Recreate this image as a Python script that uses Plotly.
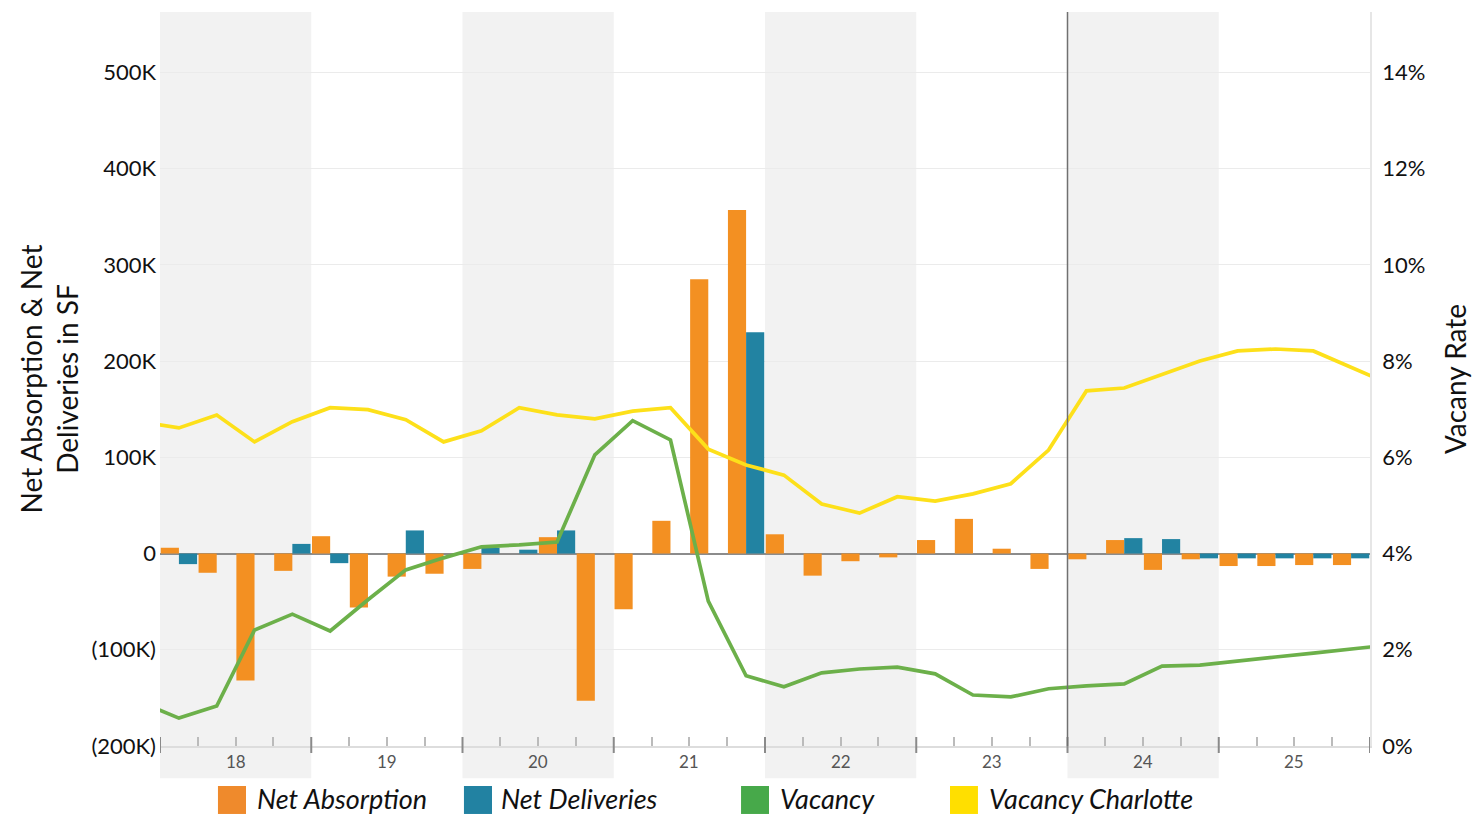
import plotly.graph_objects as go

# ---------------- data ----------------
years = ["18", "19", "20", "21", "22", "23", "24", "25"]
quarters = [f"20{y} Q{q}" for y in years for q in (1, 2, 3, 4)]          # 2018 Q1 .. 2025 Q4
line_quarters = ["2017 Q4"] + quarters + ["2026 Q1"]                      # lines run past the frame

# SF, per quarter
net_absorption = [6000, -20000, -132000, -18000, 18000, -56000, -24000, -21000,
                  -16000, 0, 17000, -153000, -58000, 34000, 285000, 357000,
                  20000, -23000, -8000, -4000, 14000, 36000, 5000, -16000,
                  -6000, 14000, -17000, -6000, -13000, -13000, -12000, -12000]
net_deliveries = [-11000, 0, 0, 10000, -10000, 0, 24000, 0,
                  6000, 4000, 24000, 0, 0, 0, 0, 230000,
                  0, 0, 0, 0, 0, 0, 0, 0,
                  0, 16000, 15000, -5000, -5000, -5000, -5000, -5000]
# percent
vacancy = [0.91, 0.58, 0.83, 2.41, 2.74, 2.39, 3.04, 3.66, 3.91, 4.14, 4.18, 4.24,
           6.05, 6.76, 6.36, 3.01, 1.46, 1.23, 1.52, 1.60, 1.64, 1.50, 1.06, 1.02,
           1.19, 1.25, 1.29, 1.66, 1.68, 1.77, 1.85, 1.93, 2.02, 2.10]
vacancy_charlotte = [6.74, 6.61, 6.88, 6.32, 6.74, 7.03, 6.99, 6.78, 6.32, 6.55, 7.03, 6.88,
                     6.80, 6.96, 7.03, 6.17, 5.84, 5.63, 5.03, 4.84, 5.18, 5.09, 5.24, 5.45,
                     6.15, 7.38, 7.44, 7.71, 8.00, 8.21, 8.25, 8.21, 7.88, 7.53]

left_tickvals = [-200000, -100000, 0, 100000, 200000, 300000, 400000, 500000]
left_ticktext = ["(200K)", "(100K)", "0", "100K", "200K", "300K", "400K", "500K"]
right_tickvals = [0, 2, 4, 6, 8, 10, 12, 14]
right_ticktext = ["0%", "2%", "4%", "6%", "8%", "10%", "12%", "14%"]

series_names = ["Net Absorption", "Net Deliveries", "Vacancy", "Vacancy Charlotte"]
series_colors = ["#F39022", "#2283A2", "#6CB04A", "#FDE01A"]
legend_colors = ["#EF8A2C", "#2282A2", "#47A94A", "#FFDF00"]

forecast_start = "2024 Q1"

# ---------------- positions ----------------
xb = [quarters.index(q) for q in quarters]
xl = [i - 1 for i in range(len(line_quarters))]
FONT = "Lato"

fig = go.Figure()
fig.add_trace(go.Bar(x=xb, y=net_absorption, name=series_names[0],
                     marker=dict(color=series_colors[0], line=dict(width=0)),
                     showlegend=False))
fig.add_trace(go.Bar(x=xb, y=net_deliveries, name=series_names[1],
                     marker=dict(color=series_colors[1], line=dict(width=0)),
                     showlegend=False))
fig.add_trace(go.Scatter(x=xl, y=vacancy, name=series_names[2], mode="lines",
                         line=dict(color=series_colors[2], width=3.7),
                         yaxis="y2", showlegend=False))
fig.add_trace(go.Scatter(x=xl, y=vacancy_charlotte, name=series_names[3], mode="lines",
                         line=dict(color=series_colors[3], width=3.7),
                         yaxis="y2", showlegend=False))

shapes = []
# alternating year bands
for i, y in enumerate(years):
    if i % 2 == 0:
        shapes.append(dict(type="rect", xref="x", yref="paper",
                           x0=4 * i - 0.5, x1=4 * i + 3.5, y0=-0.044, y1=1,
                           fillcolor="#F2F2F2", line=dict(width=0), layer="below"))
# year-boundary (major) ticks crossing the axis line
for i in range(len(years) + 1):
    shapes.append(dict(type="line", xref="x", yref="paper",
                       x0=4 * i - 0.5, x1=4 * i - 0.5, y0=-0.0095, y1=0.0123,
                       line=dict(color="#8A8A8A", width=2), layer="above"))
# forecast divider
fx = quarters.index(forecast_start) - 0.5
shapes.append(dict(type="line", xref="x", yref="paper", x0=fx, x1=fx, y0=0, y1=1,
                   line=dict(color="#707070", width=1.5), layer="above"))

annotations = []
for i, y in enumerate(years):
    annotations.append(dict(x=4 * i + 1.5, y=0, xref="x", yref="paper",
                            text=y, showarrow=False, yanchor="top", yshift=-3,
                            font=dict(family=FONT, size=17, color="#555555")))

# manual legend (large squares)
legend_sq = [(0.0479, 0.0711, 0.0785), (0.2512, 0.2744, 0.2802),
             (0.4802, 0.5033, 0.5107), (0.6529, 0.6760, 0.6835)]
for (x0, x1, xt), name, col in zip(legend_sq, series_names, legend_colors):
    shapes.append(dict(type="rect", xref="paper", yref="paper", x0=x0, x1=x1,
                       y0=-0.0926, y1=-0.0545, fillcolor=col, line=dict(width=0)))
    annotations.append(dict(x=xt, y=-0.0715, xref="paper", yref="paper",
                            text=f"<i>{name}</i>", showarrow=False,
                            xanchor="left", yanchor="middle",
                            font=dict(family=FONT, size=27, color="#111111")))

minor_vals = [q - 0.5 for q in range(len(quarters) + 1) if (q % 4) != 0]

fig.update_layout(
    width=1473, height=816,
    margin=dict(l=160, r=103, t=12, b=70, autoexpand=False),
    paper_bgcolor="white", plot_bgcolor="white",
    barmode="group", bargap=0.04, bargroupgap=0,
    font=dict(family=FONT, color="#111111"),
    shapes=shapes, annotations=annotations,
    xaxis=dict(range=[-0.5, 31.5], showgrid=False, zeroline=False,
               showline=True, linecolor="#DDDDDD", linewidth=1.5,
               tickmode="array", tickvals=minor_vals,
               ticktext=[""] * len(minor_vals), automargin=False,
               ticks="inside", ticklen=9, tickwidth=1.5, tickcolor="#BBBBBB"),
    yaxis=dict(range=[-200000, 562700], tickmode="array",
               tickvals=left_tickvals, ticktext=left_ticktext,
               tickfont=dict(family=FONT, size=22, color="#111111"),
               ticklabelstandoff=3, automargin=False,
               showgrid=True, gridcolor="#EBEBEB", gridwidth=1,
               zeroline=True, zerolinecolor="#8C8C8C", zerolinewidth=2,
               showline=False, ticks="",
               title=dict(text="Net Absorption & Net<br>Deliveries in SF",
                          font=dict(family=FONT, size=28, color="#111111"),
                          standoff=4)),
    yaxis2=dict(range=[0, 15.254], overlaying="y", side="right",
                tickmode="array", tickvals=right_tickvals, ticktext=right_ticktext,
                tickfont=dict(family=FONT, size=22, color="#111111"),
                ticklabelstandoff=6, automargin=False,
                showgrid=False, zeroline=False,
                showline=True, linecolor="#E6E6E6", linewidth=1.5, ticks="",
                title=dict(text="Vacany Rate",
                           font=dict(family=FONT, size=28, color="#111111"),
                           standoff=22)),
)

fig.write_html("out.html")
